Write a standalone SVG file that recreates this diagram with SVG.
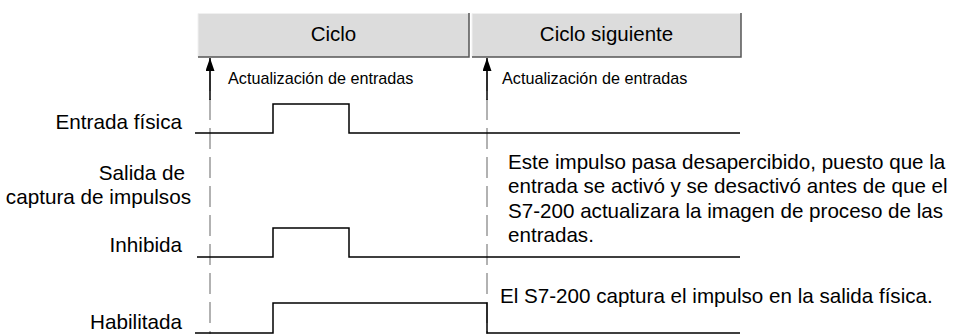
<svg xmlns="http://www.w3.org/2000/svg" width="953" height="334" viewBox="0 0 953 334">
<defs>
<style>
text{font-family:"Liberation Sans",Arial,sans-serif;fill:#000}
.lbl{font-size:20.7px;text-anchor:end}
.hdr{font-size:20.5px;text-anchor:middle}
.sm{font-size:16.2px}
.note{font-size:20.6px}
.box{fill:#dcdcdc;stroke:none}
.hl{fill:none;stroke:#f0f0f0;stroke-width:1}
.shadow{fill:none;stroke:#555;stroke-width:1.5}
.dash{fill:none;stroke:#999;stroke-width:1.5;stroke-dasharray:21 8}
.sig{fill:none;stroke:#000;stroke-width:1.5}
.arr{fill:none;stroke:#000;stroke-width:1.5}
</style>
<marker id="ah" viewBox="0 0 13 9" refX="13" refY="4.5" markerWidth="13" markerHeight="9" markerUnits="userSpaceOnUse" orient="auto">
<path d="M0,0 L13,4.5 L0,9 Z" fill="#000"/>
</marker>
</defs>
<g id="header-ciclo">
<rect class="box" x="198" y="13" width="271" height="44"/>
<polyline class="hl" points="198,57 198,13.5 469,13.5"/>
<polyline class="shadow" points="469,13 469,57 198,57"/>
<text class="hdr" x="333.5" y="41">Ciclo</text>
</g>
<g id="header-ciclo-siguiente">
<rect class="box" x="472" y="13" width="269" height="44"/>
<polyline class="hl" points="472,57 472,13.5 741,13.5"/>
<polyline class="shadow" points="741,13 741,57 472,57"/>
<text class="hdr" x="606.5" y="41">Ciclo siguiente</text>
</g>
<g id="connectors">
<line class="dash" x1="210" y1="70" x2="210" y2="334"/>
<line class="dash" x1="487" y1="70" x2="487" y2="334"/>
<line class="arr" x1="210" y1="100" x2="210" y2="58" marker-end="url(#ah)"/>
<line class="arr" x1="487" y1="100" x2="487" y2="58" marker-end="url(#ah)"/>
</g>
<g id="update-1"><text class="sm" x="228" y="84">Actualización de entradas</text></g>
<g id="update-2"><text class="sm" x="502" y="84">Actualización de entradas</text></g>
<g id="entrada-fisica">
<text class="lbl" x="182" y="129">Entrada física</text>
<polyline class="sig" points="195,133 273,133 273,104 349,104 349,133 740,133"/>
</g>
<g id="salida-captura">
<text class="lbl" x="185" y="180">Salida de</text>
<text class="lbl" x="191" y="204">captura de impulsos</text>
</g>
<g id="inhibida">
<text class="lbl" x="182" y="252">Inhibida</text>
<polyline class="sig" points="197,257 273,257 273,228 349,228 349,257 740,257"/>
</g>
<g id="habilitada">
<text class="lbl" x="182" y="329">Habilitada</text>
<polyline class="sig" points="195,333 273,333 273,303 487,303 487,333 740,333"/>
</g>
<g id="note-1">
<text class="note" x="508" y="169">Este impulso pasa desapercibido, puesto que la</text>
<text class="note" x="508" y="193">entrada se activó y se desactivó antes de que el</text>
<text class="note" x="508" y="218">S7-200 actualizara la imagen de proceso de las</text>
<text class="note" x="508" y="242">entradas.</text>
</g>
<g id="note-2">
<text class="note" x="500" y="303">El S7-200 captura el impulso en la salida física.</text>
</g>
</svg>
